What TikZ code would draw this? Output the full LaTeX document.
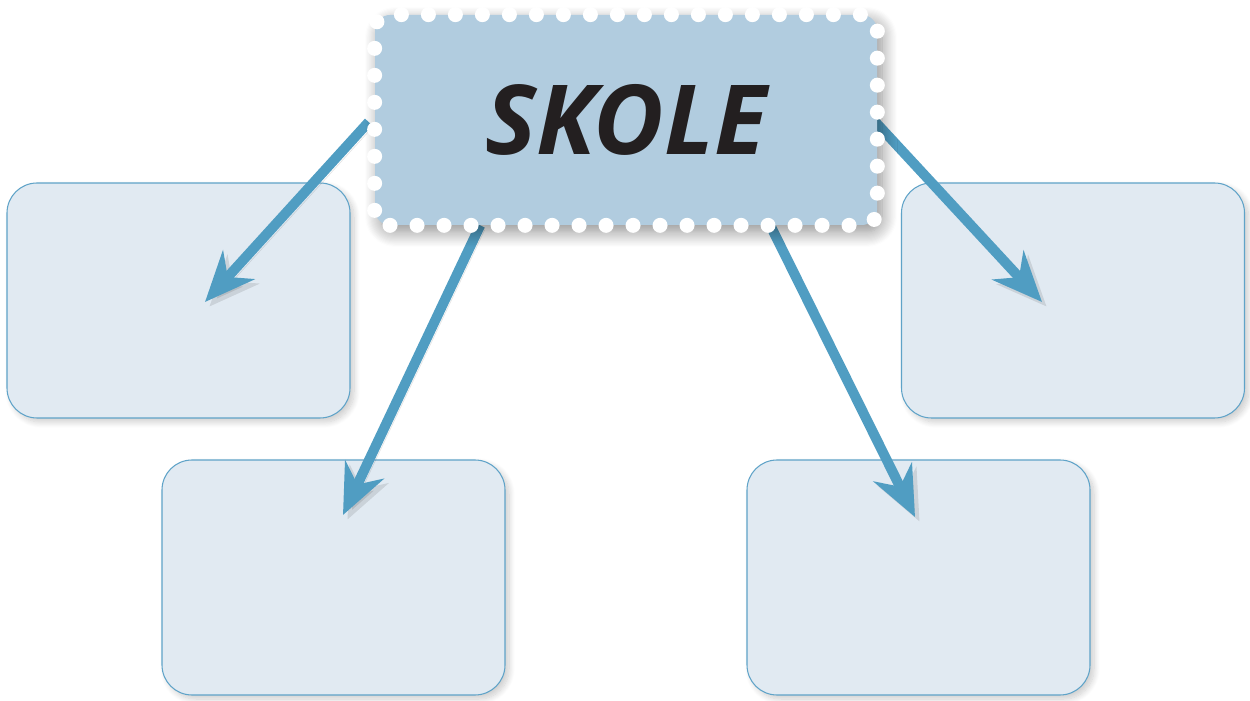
\documentclass[tikz,border=0pt]{standalone}
\usepackage{fontspec}
\newfontfamily\titlefont{Open Sans}
\usetikzlibrary{arrows.meta,shadows.blur,calc}

\definecolor{arrowblue}{RGB}{80,157,194}
\definecolor{boxfill}{RGB}{225,234,242}
\definecolor{boxline}{RGB}{95,163,200}
\definecolor{titlefill}{RGB}{177,204,223}
\definecolor{titletext}{RGB}{35,31,32}

\pgfdeclarelayer{background}
\pgfsetlayers{background,main}

\tikzset{
  emptybox/.style={draw=boxline,fill=boxfill,line width=0.6pt,rounded corners=0.6cm,
    minimum width=6.86cm,minimum height=4.7cm,inner sep=0pt,
    blur shadow={shadow xshift=0.08cm,shadow yshift=-0.08cm,shadow blur radius=0.12cm,shadow blur steps=10,shadow opacity=20}},
  titlebox/.style={fill=titlefill,rounded corners=0.3cm,minimum width=10.04cm,minimum height=4.2cm,
    inner sep=0pt,text=titletext,font=\titlefont\bfseries\itshape\fontsize{55}{55}\selectfont,
    blur shadow={shadow xshift=0.1cm,shadow yshift=-0.14cm,shadow blur radius=0.3cm,shadow blur steps=14,shadow opacity=45}},
  dotborder/.style={draw=white,line width=0.3cm,line cap=round,dash pattern=on 0pt off 0.54cm},
  bigarrow/.style={draw=arrowblue,line width=0.2cm,-{Stealth[length=1cm,width=0.85cm]},
    preaction={draw=black,opacity=0.1,transform canvas={shift={(0.09,-0.09)}}}}
}

\begin{document}
\begin{tikzpicture}
\useasboundingbox (0,0) rectangle (25,14);

\node[titlebox] (skole) at (12.52,11.6) {SKOLE};
\draw[dotborder,rounded corners=0.3cm] (skole.south west) rectangle (skole.north east);

\begin{pgfonlayer}{background}
\node[emptybox] (boxtl) at (3.57,7.99) {};
\node[emptybox] (boxbl) at (6.67,2.45) {};
\node[emptybox] (boxtr) at (21.46,7.99) {};
\node[emptybox] (boxbr) at (18.37,2.45) {};

% arrow tips inside the boxes
\coordinate (tiptl) at (4.1,7.96);
\coordinate (tipbl) at (6.86,3.7);
\coordinate (tipbr) at (18.3,3.66);
\coordinate (tiptr) at (20.84,7.96);

\draw[bigarrow] ([xshift=-0.12cm,yshift=-0.04cm]skole.west) -- (tiptl);
\draw[bigarrow] ($(skole.south west)!0.21!(skole.south east)$) -- (tipbl);
\draw[bigarrow] ($(skole.south west)!0.787!(skole.south east)$) -- (tipbr);
\draw[bigarrow] ([xshift=-0.04cm,yshift=-0.04cm]skole.east) -- (tiptr);
\end{pgfonlayer}
\end{tikzpicture}
\end{document}
